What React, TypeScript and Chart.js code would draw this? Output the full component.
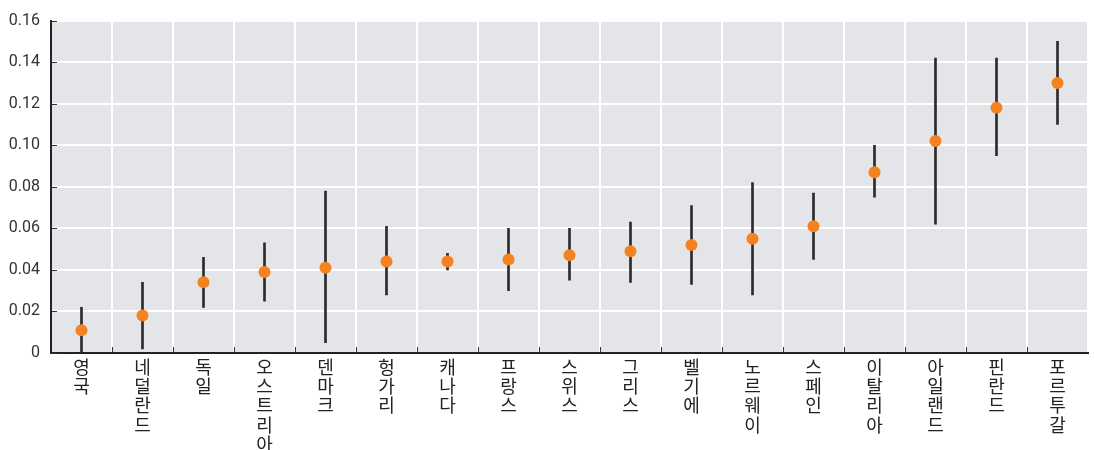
import React, { useEffect, useRef } from "react";
import { Chart, registerables } from "chart.js";

Chart.register(...registerables);

const countries: string[] = [
  "영국", "네덜란드", "독일", "오스트리아", "덴마크", "헝가리", "캐나다", "프랑스", "스위스",
  "그리스", "벨기에", "노르웨이", "스페인", "이탈리아", "아일랜드", "핀란드", "포르투갈",
];
const estimates: number[] = [
  0.011, 0.018, 0.034, 0.039, 0.041, 0.044, 0.044, 0.045, 0.047,
  0.049, 0.052, 0.055, 0.061, 0.087, 0.102, 0.118, 0.130,
];
const lowerBounds: number[] = [
  0.0, 0.002, 0.022, 0.025, 0.005, 0.028, 0.040, 0.030, 0.035,
  0.034, 0.033, 0.028, 0.045, 0.075, 0.062, 0.095, 0.110,
];
const upperBounds: number[] = [
  0.022, 0.034, 0.046, 0.053, 0.078, 0.061, 0.048, 0.060, 0.060,
  0.063, 0.071, 0.082, 0.077, 0.100, 0.142, 0.142, 0.150,
];
const yTicks: number[] = [0, 0.02, 0.04, 0.06, 0.08, 0.1, 0.12, 0.14, 0.16];

const bgPlugin = {
  id: "plotBg",
  beforeDraw(chart: any) {
    const { ctx, chartArea } = chart;
    ctx.save();
    ctx.fillStyle = "#E3E5E8";
    ctx.fillRect(chartArea.left, chartArea.top, chartArea.right - chartArea.left, chartArea.bottom - chartArea.top);
    ctx.restore();
  },
  afterDraw(chart: any) {
    const { ctx, chartArea, scales } = chart;
    const x = scales.x;
    const y = scales.y;
    ctx.save();
    ctx.strokeStyle = "#333";
    ctx.lineWidth = 1;
    for (const t of yTicks) {
      const py = Math.round(y.getPixelForValue(t)) + 0.5;
      ctx.beginPath();
      ctx.moveTo(chartArea.left, py);
      ctx.lineTo(chartArea.left + 6, py);
      ctx.stroke();
    }
    for (let i = 0; i < countries.length - 1; i++) {
      const px = Math.round((x.getPixelForValue(i) + x.getPixelForValue(i + 1)) / 2) + 0.5;
      ctx.beginPath();
      ctx.moveTo(px, chartArea.bottom);
      ctx.lineTo(px, chartArea.bottom - 6);
      ctx.stroke();
    }
    ctx.restore();
  },
};

export default function App() {
  const ref = useRef<HTMLCanvasElement | null>(null);
  useEffect(() => {
    document.body.style.margin = "0";
    if (!ref.current) return;
    const labels = countries.map((c) => Array.from(c));
    const chart = new Chart(ref.current, {
      data: {
        labels,
        datasets: [
          {
            type: "line",
            data: estimates,
            showLine: false,
            pointRadius: 6,
            pointHoverRadius: 6,
            pointBackgroundColor: "#F4821F",
            pointBorderColor: "#F4821F",
            pointBorderWidth: 0,
            order: 0,
          } as any,
          {
            type: "bar",
            data: lowerBounds.map((lo, i) => [lo, upperBounds[i]]),
            backgroundColor: "#2b2b2b",
            barThickness: 2,
            order: 1,
          } as any,
        ],
      },
      options: {
        animation: false,
        responsive: true,
        maintainAspectRatio: false,
        layout: { padding: { top: 7, right: 2, left: 0, bottom: 0 } },
        plugins: { legend: { display: false }, tooltip: { enabled: false } },
        scales: {
          x: {
            type: "category",
            offset: true,
            grid: { offset: true, color: "#ffffff", lineWidth: 2, drawTicks: false },
            border: { color: "#222", width: 2 },
            ticks: {
              maxRotation: 0,
              minRotation: 0,
              autoSkip: false,
              padding: 4,
              color: "#222",
              font: { family: "'Noto Sans CJK KR'", size: 18, lineHeight: 1.08 },
            },
            afterFit: (s: any) => { s.height = 97; },
          },
          y: {
            min: 0,
            max: 0.16,
            afterBuildTicks: (s: any) => { s.ticks = yTicks.map((v) => ({ value: v })); },
            grid: { color: "#ffffff", lineWidth: 2, drawTicks: false },
            border: { color: "#222", width: 2 },
            ticks: {
              padding: 11,
              color: "#333",
              font: { family: "Roboto", size: 16 },
              callback: (v: any) => (Number(v) === 0 ? "0" : Number(v).toFixed(2)),
            },
            afterFit: (s: any) => { s.width = 51; },
          },
        },
      },
      plugins: [bgPlugin],
    } as any);
    return () => chart.destroy();
  }, []);
  return (
    <div style={{ width: 1094, height: 450, position: "relative" }}>
      <canvas ref={ref} />
    </div>
  );
}
